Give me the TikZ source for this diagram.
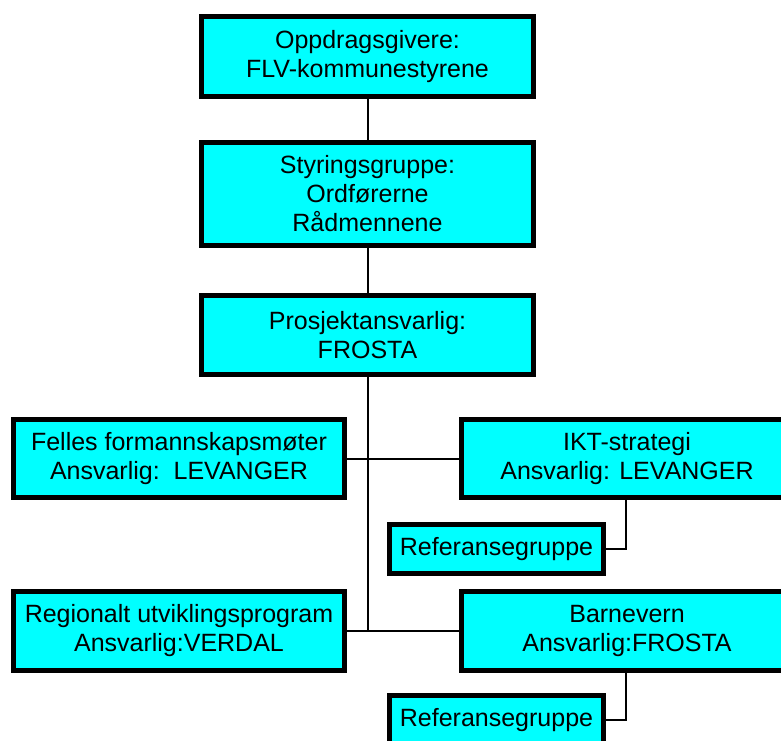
\documentclass[tikz,border=0pt]{standalone}
\usepackage{fontspec}
\setmainfont{Liberation Sans}
\begin{document}
\begin{tikzpicture}[x=1pt,y=-1pt,
  orgbox/.style={draw=black, fill=cyan!100, line width=5pt, inner sep=0pt,
    align=center, font=\fontsize{25}{29}\selectfont, text=black},
  link/.style={draw=black, line width=2pt}]
\useasboundingbox (0,0) rectangle (781,740);
\clip (0,0) rectangle (781,740);
\definecolor{boxcyan}{RGB}{0,255,255}
\tikzset{orgbox/.append style={fill=boxcyan}}
\node[orgbox, minimum width=332pt, minimum height=80pt] (b1) at (367.5,56.5) {Oppdragsgivere:\\FLV-kommunestyrene};
\node[orgbox, minimum width=332pt, minimum height=103pt] (b2) at (367.5,194) {Styringsgruppe:\\Ordførerne\\Rådmennene};
\node[orgbox, minimum width=332pt, minimum height=79pt] (b3) at (367.5,335) {Prosjektansvarlig:\\FROSTA};
\node[orgbox, minimum width=331pt, minimum height=78pt] (felles) at (179,458.5) {Felles formannskapsmøter\\Ansvarlig:\ \ LEVANGER};
\node[orgbox, minimum width=331pt, minimum height=78pt] (ikt) at (627,458.5) {IKT-strategi\\Ansvarlig: LEVANGER};
\node[orgbox, minimum width=214pt, minimum height=49pt] (ref1) at (496.5,549) {Referansegruppe};
\node[orgbox, minimum width=331pt, minimum height=79pt] (regional) at (179,630.5) {Regionalt utviklingsprogram\\Ansvarlig:VERDAL};
\node[orgbox, minimum width=331pt, minimum height=79pt] (barnevern) at (627,630.5) {Barnevern\\Ansvarlig:FROSTA};
\node[orgbox, minimum width=214pt, minimum height=49pt] (ref2) at (496.5,720) {Referansegruppe};
\coordinate (trunkend) at (367.5,632);
\draw[link] (b1.south) -- (b2.north);
\draw[link] (b2.south) -- (b3.north);
\draw[link] (b3.south) -- (trunkend);
\draw[link] (felles.east) -- (ikt.west);
\draw[link] (regional.east) -- (barnevern.west);
\draw[link] ([xshift=-1pt]ikt.south) |- (ref1.east);
\draw[link] ([xshift=-1pt]barnevern.south) |- (ref2.east);
\end{tikzpicture}
\end{document}
